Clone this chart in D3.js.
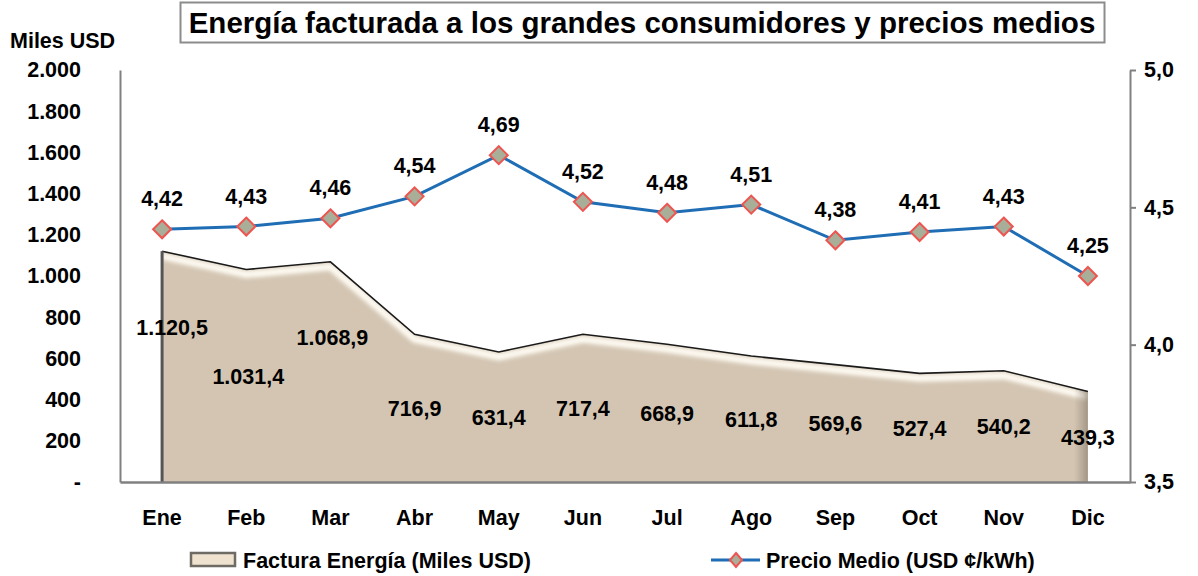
<!DOCTYPE html>
<html>
<head>
<meta charset="utf-8">
<script src="https://cdn.jsdelivr.net/npm/d3@7"></script>
<style>
  body { margin: 0; background: #fff; }
  svg text { font-family: "Liberation Sans", Arial, sans-serif; font-weight: bold; fill: #000; }
</style>
</head>
<body>
<div id="chart"></div>
<script>
// data
var months = ["Ene", "Feb", "Mar", "Abr", "May", "Jun", "Jul", "Ago", "Sep", "Oct", "Nov", "Dic"];
var factura = [1120.5, 1031.4, 1068.9, 716.9, 631.4, 717.4, 668.9, 611.8, 569.6, 527.4, 540.2, 439.3];
var precio = [4.42, 4.43, 4.46, 4.54, 4.69, 4.52, 4.48, 4.51, 4.38, 4.41, 4.43, 4.25];
var leftTicks = [0, 200, 400, 600, 800, 1000, 1200, 1400, 1600, 1800, 2000];
var rightTicks = [3.5, 4.0, 4.5, 5.0];

// labels that were moved by hand in the original (dx, dy in px)
var facturaLabelNudge = [[10, -40], [2, 0], [2, -35], [0, 0], [0, 0], [0, 0], [0, 0], [0, 0], [0, 0], [0, 0], [0, 0], [0, 0]];

var W = 1198, H = 576,
    plotLeft = 120, plotRight = 1130, plotTop = 70, plotBottom = 482,
    fs = "21.5px";

var svg = d3.select("#chart").append("svg")
    .attr("width", W)
    .attr("height", H);

var defs = svg.append("defs");

var loc = d3.formatLocale({ decimal: ",", thousands: ".", grouping: [3], currency: ["", ""] });
var fmtLeft = function(d) { return d === 0 ? "-" : loc.format(",.0f")(d); };
var fmtOne = loc.format(",.1f");
var fmtTwo = loc.format(",.2f");

var x = d3.scaleBand()
    .domain(months)
    .range([plotLeft, plotRight]);
var cx = function(m) { return x(m) + x.bandwidth() / 2; };

var y = d3.scaleLinear()
    .domain([0, 2000])
    .range([plotBottom, plotTop]);

var y2 = d3.scaleLinear()
    .domain([3.5, 5.0])
    .range([plotBottom, plotTop]);

// title
svg.append("rect")
    .attr("x", 180.5).attr("y", 2.5)
    .attr("width", 924).attr("height", 40)
    .attr("fill", "#fff")
    .attr("stroke", "#8c8c8c")
    .attr("stroke-width", 2);
svg.append("text")
    .attr("x", 642).attr("y", 33)
    .attr("text-anchor", "middle")
    .style("font-size", "29.5px")
    .text("Energía facturada a los grandes consumidores y precios medios");

svg.append("text")
    .attr("x", 10).attr("y", 48)
    .style("font-size", fs)
    .text("Miles USD");

// area
var area = d3.area()
    .x(function(d, i) { return cx(months[i]); })
    .y0(plotBottom)
    .y1(function(d) { return y(d); });
var topLine = d3.line()
    .x(function(d, i) { return cx(months[i]); })
    .y(function(d) { return y(d); });

defs.append("clipPath").attr("id", "areaClip")
    .append("path").attr("d", area(factura));

var blur = defs.append("filter").attr("id", "soft").attr("x", "-5%").attr("y", "-20%").attr("width", "110%").attr("height", "140%");
blur.append("feGaussianBlur").attr("stdDeviation", 2);

var shade = defs.append("linearGradient").attr("id", "rightShade").attr("x1", "0").attr("x2", "1");
shade.append("stop").attr("offset", "0").attr("stop-color", "#8a7d6c").attr("stop-opacity", 0);
shade.append("stop").attr("offset", "1").attr("stop-color", "#7a6e5e").attr("stop-opacity", 0.55);

var areaG = svg.append("g");
areaG.append("path")
    .attr("d", area(factura))
    .attr("fill", "#d3c5b2");

var clipped = areaG.append("g").attr("clip-path", "url(#areaClip)");
clipped.append("path")
    .attr("d", topLine(factura))
    .attr("transform", "translate(0,5)")
    .attr("fill", "none")
    .attr("stroke", "#fffcf4")
    .attr("stroke-width", 7)
    .attr("filter", "url(#soft)");
clipped.append("rect")
    .attr("x", cx("Dic") - 14).attr("y", plotTop)
    .attr("width", 14).attr("height", plotBottom - plotTop)
    .attr("fill", "url(#rightShade)");
clipped.append("line")
    .attr("x1", cx("Ene") + 4).attr("x2", cx("Ene") + 4)
    .attr("y1", plotTop).attr("y2", plotBottom)
    .attr("stroke", "#f6efe2").attr("stroke-width", 4)
    .attr("filter", "url(#soft)");
clipped.append("line")
    .attr("x1", plotLeft).attr("x2", plotRight)
    .attr("y1", plotBottom - 3).attr("y2", plotBottom - 3)
    .attr("stroke", "#b8ab98").attr("stroke-width", 3)
    .attr("filter", "url(#soft)");

areaG.append("path")
    .attr("d", topLine(factura))
    .attr("fill", "none")
    .attr("stroke", "#1a1a1a")
    .attr("stroke-width", 1.6);
areaG.append("line")
    .attr("x1", cx("Ene")).attr("x2", cx("Ene"))
    .attr("y1", y(factura[0])).attr("y2", plotBottom)
    .attr("stroke", "#555")
    .attr("stroke-width", 3);

// axes
var axisL = svg.append("g")
    .attr("transform", "translate(" + plotLeft + ",0)")
    .call(d3.axisLeft(y).tickValues(leftTicks).tickSize(0).tickPadding(39).tickFormat(fmtLeft));
axisL.select(".domain").attr("stroke", "#808080").attr("stroke-width", 2);
axisL.selectAll("text").style("font-size", fs).attr("font-family", null);

var axisR = svg.append("g")
    .attr("transform", "translate(" + plotRight + ",0)")
    .call(d3.axisRight(y2).tickValues(rightTicks).tickSize(6).tickSizeOuter(0).tickPadding(8)
        .tickFormat(function(d) { return fmtOne(d); }));
axisR.select(".domain").attr("stroke", "#808080").attr("stroke-width", 2);
axisR.selectAll(".tick line").attr("stroke", "#808080").attr("stroke-width", 2);
axisR.selectAll("text").style("font-size", fs).attr("font-family", null);

var axisB = svg.append("g")
    .attr("transform", "translate(0," + plotBottom + ")")
    .call(d3.axisBottom(x).tickSize(0).tickPadding(28));
axisB.select(".domain").attr("stroke", "#808080").attr("stroke-width", 2.5);
axisB.selectAll("text").style("font-size", fs).attr("font-family", null);

// area labels
svg.append("g").selectAll("text")
    .data(factura)
    .enter().append("text")
        .attr("x", function(d, i) { return cx(months[i]) + facturaLabelNudge[i][0]; })
        .attr("y", function(d, i) { return y(d / 2) + 8 + facturaLabelNudge[i][1]; })
        .attr("text-anchor", "middle")
        .style("font-size", fs)
        .text(function(d) { return fmtOne(d); });

// price line
var priceLine = d3.line()
    .x(function(d, i) { return cx(months[i]); })
    .y(function(d) { return y2(d); });

svg.append("path")
    .attr("d", priceLine(precio))
    .attr("fill", "none")
    .attr("stroke", "#1f6db4")
    .attr("stroke-width", 3);

var diamond = "M0,-9L9,0L0,9L-9,0Z";
svg.append("g").selectAll("path")
    .data(precio)
    .enter().append("path")
        .attr("d", diamond)
        .attr("transform", function(d, i) { return "translate(" + cx(months[i]) + "," + y2(d) + ")"; })
        .attr("fill", "#a8ae98")
        .attr("stroke", "#ee5450")
        .attr("stroke-width", 2);

svg.append("g").selectAll("text")
    .data(precio)
    .enter().append("text")
        .attr("x", function(d, i) { return cx(months[i]); })
        .attr("y", function(d) { return y2(d) - 23; })
        .attr("text-anchor", "middle")
        .style("font-size", fs)
        .text(function(d) { return fmtTwo(d); });

// legend
var lg = svg.append("g");
lg.append("rect")
    .attr("x", 191).attr("y", 553)
    .attr("width", 44).attr("height", 13)
    .attr("fill", "#efe3d0")
    .attr("stroke", "#6e6a64")
    .attr("stroke-width", 2.5);
lg.append("text")
    .attr("x", 243).attr("y", 568)
    .style("font-size", fs)
    .text("Factura Energía (Miles USD)");

lg.append("line")
    .attr("x1", 711).attr("x2", 760)
    .attr("y1", 560).attr("y2", 560)
    .attr("stroke", "#1f6db4")
    .attr("stroke-width", 3);
lg.append("path")
    .attr("d", "M0,-7L6,0L0,7L-6,0Z")
    .attr("transform", "translate(736,560)")
    .attr("fill", "#a8ae98")
    .attr("stroke", "#ee5450")
    .attr("stroke-width", 2);
lg.append("text")
    .attr("x", 766).attr("y", 568)
    .style("font-size", fs)
    .text("Precio Medio (USD ¢/kWh)");
</script>
</body>
</html>
